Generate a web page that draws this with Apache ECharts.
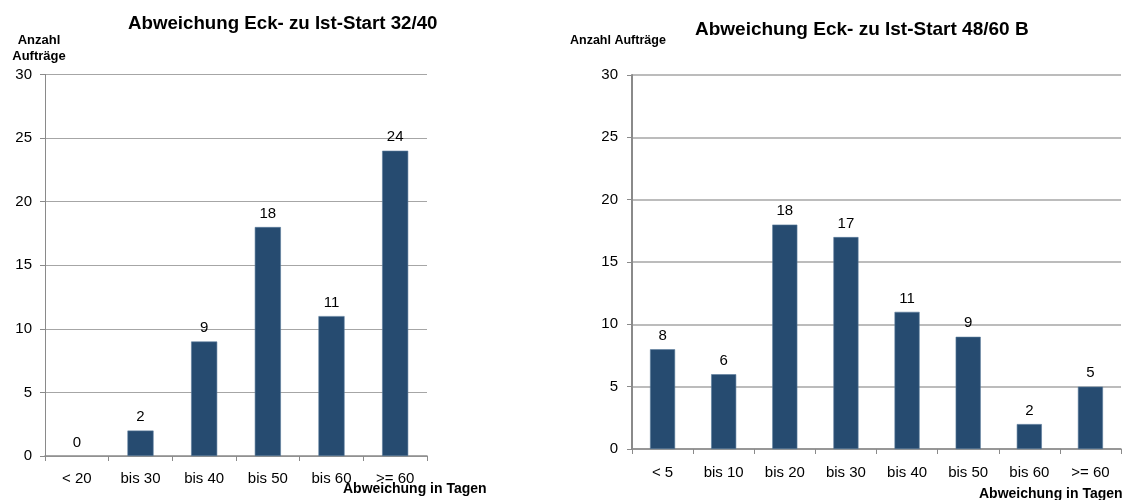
<!DOCTYPE html>
<html>
<head>
<meta charset="utf-8">
<title>Abweichung Eck- zu Ist-Start</title>
<script src="https://cdn.jsdelivr.net/npm/echarts@6/dist/echarts.min.js"></script>
<style>
  html, body { margin: 0; padding: 0; background: #ffffff; }
  #chart { width: 1122px; height: 500px; }
</style>
</head>
<body>
<div id="chart"></div>
<script>
// Left chart: 32/40
const categoriesA = ['< 20', 'bis 30', 'bis 40', 'bis 50', 'bis 60', '>= 60'];
const valuesA = [0, 2, 9, 18, 11, 24];

// Right chart: 48/60 B
const categoriesB = ['< 5', 'bis 10', 'bis 20', 'bis 30', 'bis 40', 'bis 50', 'bis 60', '>= 60'];
const valuesB = [8, 6, 18, 17, 11, 9, 2, 5];

const yTicks = { min: 0, max: 30, interval: 5 };

const FONT = '"Liberation Sans", Arial, sans-serif';
const BAR = '#264b70';

const chart = echarts.init(document.getElementById('chart'), null, { renderer: 'canvas' });

function yAxis(gridIndex, lineWidth, margin) {
  return {
    type: 'value', gridIndex,
    min: yTicks.min, max: yTicks.max, interval: yTicks.interval,
    axisLine: { show: true, lineStyle: { color: '#8a8a8a', width: lineWidth } },
    axisTick: { show: true, length: 5, lineStyle: { color: '#8a8a8a', width: 1 } },
    axisLabel: { color: '#000', fontFamily: FONT, fontSize: 15, margin },
    splitLine: { show: true, lineStyle: { color: '#a6a6a6', width: lineWidth === 1 ? 1 : 1.5 } }
  };
}

function xAxis(gridIndex, data, margin) {
  return {
    type: 'category', gridIndex, data,
    axisLine: { show: true, lineStyle: { color: '#8a8a8a', width: 1.5 } },
    axisTick: { show: true, length: 5, alignWithLabel: false, lineStyle: { color: '#8a8a8a' } },
    axisLabel: { color: '#000', fontFamily: FONT, fontSize: 15, margin, interval: 0 },
    splitLine: { show: false }
  };
}

// Empty bars get no outline so that only their value label remains visible
function barSeries(idx, values, width) {
  return {
    type: 'bar', xAxisIndex: idx, yAxisIndex: idx,
    data: values.map(v => ({ value: v, itemStyle: { borderWidth: v === 0 ? 0 : 0.6 } })),
    barWidth: width,
    itemStyle: { color: BAR, borderColor: '#5b7c9c' },
    label: {
      show: true, position: 'top', distance: 6,
      color: '#000', fontFamily: FONT, fontSize: 15
    },
    emphasis: { disabled: true }
  };
}

const boldText = (x, y, text, size, align) => ({
  type: 'text', x, y,
  style: {
    text, fill: '#000', font: `bold ${size}px ${FONT}`,
    textAlign: align || 'left', textVerticalAlign: 'middle'
  }
});

chart.setOption({
  animation: false,
  backgroundColor: '#ffffff',
  grid: [
    { left: 45, top: 74.4, width: 382, height: 381.6, containLabel: false },
    { left: 632, top: 75, width: 489, height: 374, containLabel: false }
  ],
  xAxis: [xAxis(0, categoriesA, 15), xAxis(1, categoriesB, 16)],
  yAxis: [yAxis(0, 1, 13), yAxis(1, 2, 14)],
  series: [barSeries(0, valuesA, '41%'), barSeries(1, valuesB, '41%')],
  graphic: [
    boldText(128, 24, 'Abweichung Eck- zu Ist-Start 32/40', 18.7),
    boldText(695, 30, 'Abweichung Eck- zu Ist-Start 48/60 B', 19),
    boldText(39, 40, 'Anzahl', 13, 'center'),
    boldText(39, 56, 'Aufträge', 13, 'center'),
    boldText(570, 41, 'Anzahl Aufträge', 12.5),
    boldText(343, 489, 'Abweichung in Tagen', 14),
    boldText(979, 494, 'Abweichung in Tagen', 14)
  ]
});
</script>
</body>
</html>
